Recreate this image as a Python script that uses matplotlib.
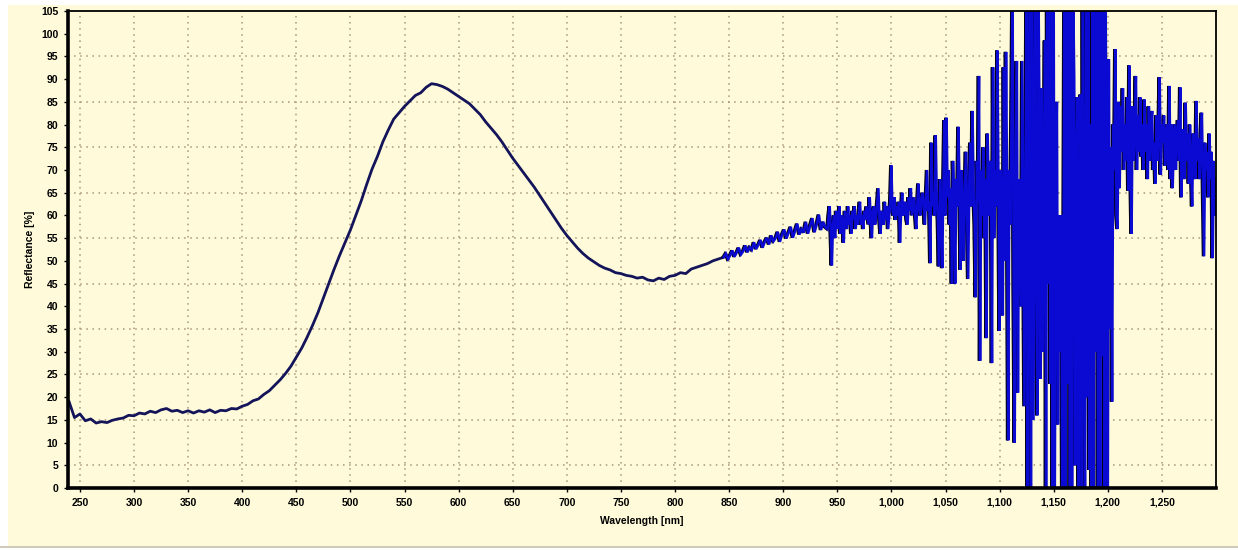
import matplotlib
matplotlib.use("Agg")
import matplotlib.pyplot as plt
import matplotlib.patheffects as pe
from matplotlib.patches import Rectangle
from matplotlib.ticker import FuncFormatter
import numpy as np

# ── Reflectance spectrum ──
# smooth part, 5 nm sampling
wl_a = np.arange(240, 850, 5)
refl_a = [19.0, 15.5, 16.3, 14.8, 15.2, 14.3, 14.6, 14.4, 14.9, 15.2,
          15.4, 16.0, 15.9, 16.5, 16.3, 16.9, 16.6, 17.2, 17.5, 16.9,
          17.1, 16.6, 17.0, 16.5, 17.0, 16.7, 17.2, 16.6, 17.1, 17.0,
          17.5, 17.4, 18.0, 18.4, 19.2, 19.6, 20.6, 21.4, 22.6, 23.8,
          25.2, 26.8, 28.8, 30.8, 33.2, 35.8, 38.6, 41.8, 45.0, 48.2,
          51.2, 54.0, 56.8, 60.0, 63.2, 66.8, 70.2, 73.0, 76.2, 78.8,
          81.2, 82.6, 84.0, 85.2, 86.4, 87.0, 88.2, 89.0, 88.8, 88.4,
          87.8, 87.0, 86.2, 85.4, 84.6, 83.4, 82.2, 80.6, 79.2, 77.8,
          76.2, 74.4, 72.6, 71.0, 69.4, 67.8, 66.2, 64.4, 62.6, 60.8,
          59.0, 57.2, 55.6, 54.2, 52.8, 51.6, 50.6, 49.8, 49.0, 48.4,
          48.0, 47.4, 47.2, 46.8, 46.6, 46.2, 46.4, 45.8, 45.6, 46.2,
          45.9, 46.6, 46.8, 47.4, 47.2, 48.2, 48.6, 49.0, 49.4, 50.0,
          50.4, 50.8]

# slightly noisy part, 2 nm sampling
wl_b = np.arange(847, 941, 2)
refl_b = [51.6, 50.4, 51.2, 52.3, 50.9, 51.8, 52.9, 51.4, 52.1, 53.4,
          51.9, 53.0, 52.4, 54.1, 52.6, 53.5, 54.6, 52.9, 54.2, 55.1,
          53.6, 55.6, 54.3, 55.0, 56.4, 54.2, 55.8, 56.9, 54.9, 56.2,
          57.5, 55.1, 56.6, 58.2, 55.8, 57.0, 56.2, 58.6, 56.0, 57.8,
          59.4, 56.3, 58.0, 60.2, 56.8, 58.6, 57.4]

# detector-edge noise, 1 nm sampling (values beyond 0..105 are clipped spikes)
wl_c = np.arange(941, 1301, 1)
refl_c = [57, 60, 62, 56, 49, 58, 60, 55, 61, 57,
          59, 62, 56, 60, 58, 54, 61, 59, 57, 62,
          58, 60, 56, 61, 59, 62, 57, 60, 58, 61,
          63, 58, 60, 57, 61, 59, 62, 60, 58, 64,
          59, 55, 61, 62, 58, 60, 63, 66, 59, 56,
          61, 60, 58, 63, 59, 62, 57, 60, 63, 71,
          61, 60, 64, 59, 62, 60, 63, 54, 61, 65,
          60, 62, 63, 59, 58, 64, 61, 66, 60, 62,
          64, 60, 57, 63, 67, 61, 60, 64, 65, 62,
          58, 64, 70, 61, 63, 49.5, 76, 62, 65, 60,
          77.6, 63, 59, 48.8, 68, 62, 48.4, 66, 81, 60,
          81.5, 64, 70, 58, 66, 45, 72, 63, 45, 68,
          62, 79.5, 66, 48, 70, 61, 50, 67, 74, 60,
          46, 68, 76, 62, 83, 65, 58, 42, 72, 63,
          90.7, 28, 70, 60, 75, 55, 68, 33, 78, 64,
          60, 72, 27.5, 92.6, 55, 70, 62, 96.3, 66, 34.6,
          70, 60, 38, 92.6, 50, 96, 64, 10.5, 70, 58,
          82, 110, 45, 10, 76, 94, 21, 68, 60, 40,
          94, 55, 18, 72, 110, -5, 80, 110, -5, 110,
          15, 60, 110, 40, 16, 110, 75, 24, 88, 30,
          62, 98.5, -5, 110, 45, 110, 23, 110, -5, 110,
          -5, 70, 85, 14, 60, 30, 60, -5, 45, 110,
          -5, 110, 23, 110, -5, 110, -5, 110, 90, 5,
          70, 86, -5, 60, 86.6, -5, 110, 40, -5, 110,
          20, 110, 4, 80, -5, 110, -5, 110, 30, 110,
          -5, 110, -5, 110, 29, 110, -5, 110, 60, -5,
          94.4, 35, 75, 19, 80, 70, 96.6, 60, 57, 85,
          66, 84, 74, 88, 70, 80, 72, 86, 65.5, 93,
          70, 56, 84, 72, 80, 90.7, 70, 82, 74, 86,
          73, 80, 70, 85.5, 74, 80, 68, 84, 72, 79,
          83, 70, 76, 67, 82, 72, 79, 90.4, 69, 80,
          76, 82, 71, 78, 80, 70, 88.5, 68, 80, 66,
          76, 80, 70, 78, 81, 72, 88.2, 64, 75, 79,
          68, 84.8, 72, 78, 67, 80, 70, 62, 78, 74,
          68, 85.2, 72, 77, 68, 78, 82.6, 66, 51, 76,
          70, 74, 64, 78, 68, 74, 50.6, 72, 60, 68]

assert len(wl_a) == len(refl_a) and len(wl_b) == len(refl_b) and len(wl_c) == len(refl_c)

wavelength = np.concatenate([wl_a, wl_b, wl_c])
reflectance = np.concatenate([refl_a, refl_b, refl_c])

x_ticks = list(range(250, 1251, 50))
y_ticks = list(range(0, 106, 5))
y_grid = [5, 15, 25, 35, 45, 55, 65, 75, 85, 95]

BG = '#FFFBDA'
GRID = '#A8957A'

plt.rcParams['font.family'] = ['Liberation Sans', 'DejaVu Sans']

fig = plt.figure(figsize=(12.38, 5.5), dpi=100)
fig.patch.set_facecolor('white')
# yellow page panel with a grey rule at the bottom
fig.patches.append(Rectangle((8 / 1238, 4 / 550), 1230 / 1238, 541 / 550,
                             transform=fig.transFigure, facecolor=BG,
                             edgecolor='none', zorder=-2))
fig.patches.append(Rectangle((0, 2 / 550), 1, 2 / 550,
                             transform=fig.transFigure, facecolor='#CFCBB8',
                             edgecolor='none', zorder=-2))

ax = fig.add_axes([68 / 1238, 62 / 550, 1148 / 1238, 477 / 550])
ax.set_zorder(1)
ax.set_facecolor(BG)

# clean part drawn dark, noisy tail drawn bright blue with a dark edge
dark = wavelength <= 850
noisy = wavelength >= 845
ax.plot(wavelength[dark], reflectance[dark], color='#14145A', linewidth=2.0,
        zorder=3)
ax.plot(wavelength[noisy], reflectance[noisy], color='#0A0AD2', linewidth=1.8,
        solid_joinstyle='miter', zorder=3,
        path_effects=[pe.SimpleLineShadow(offset=(-0.8, 0),
                                          shadow_color='#000018', alpha=1.0),
                      pe.Normal()])

ax.set_xlim(239, 1300)
ax.set_ylim(0, 105)
ax.set_xticks(x_ticks)
ax.set_yticks(y_ticks)
ax.xaxis.set_major_formatter(FuncFormatter(lambda v, p: f"{int(v):,}"))

for v in x_ticks:
    ax.axvline(v, color=GRID, linestyle=(0, (1, 3)), linewidth=1.1, zorder=1)
for v in y_grid:
    ax.axhline(v, color=GRID, linestyle=(0, (1, 3)), linewidth=1.1, zorder=1)

ax.tick_params(axis='both', direction='out', length=3, width=1, pad=4,
               labelsize=7.5, colors='black')
for lbl in ax.get_xticklabels() + ax.get_yticklabels():
    lbl.set_fontweight('bold')

ax.spines['left'].set_linewidth(2.6)
ax.spines['bottom'].set_linewidth(2.6)
ax.spines['top'].set_linewidth(1.3)
ax.spines['right'].set_linewidth(1.3)
for s in ax.spines.values():
    s.set_color('black')
    s.set_zorder(5)

ax.set_xlabel("Wavelength [nm]", fontsize=7.5, fontweight='bold', labelpad=6)
ax.set_ylabel("Reflectance [%]", fontsize=7.5, fontweight='bold', labelpad=4)

fig.savefig("out.png", dpi=100, facecolor=fig.get_facecolor())
